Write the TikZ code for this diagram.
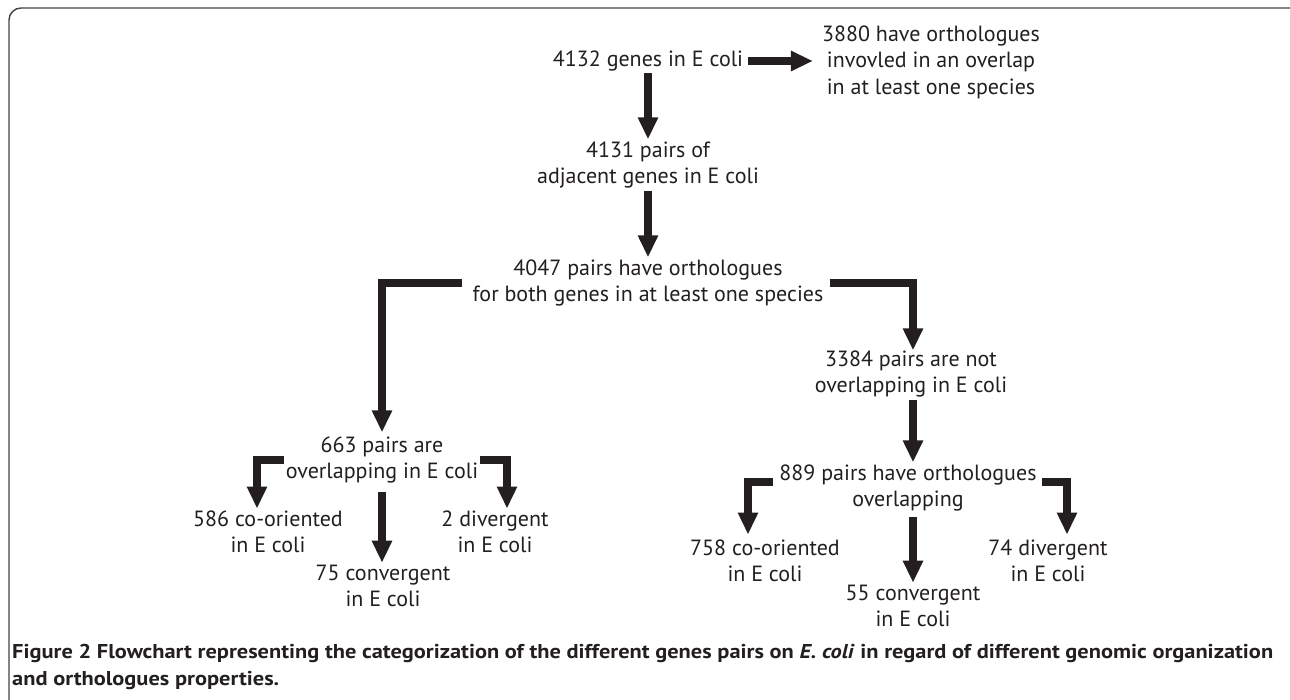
\documentclass[tikz,border=0pt]{standalone}
\usepackage{fontspec}
\setmainfont{PT Sans}
\newfontfamily\capfont[FakeStretch=1.12]{PT Sans}
\usetikzlibrary{arrows.meta}
\definecolor{ink}{HTML}{231F20}
\begin{document}
\begin{tikzpicture}[x=1pt,y=-1pt,
  lbl/.style={align=center, font=\fontsize{22}{26.5}\selectfont, text=ink, inner sep=0pt},
  arr/.style={draw=ink, line width=8pt, -{Triangle[width=19pt,length=22pt]}, line join=miter},
]
\useasboundingbox (0,0) rectangle (1290,700);
\clip (0,0) rectangle (1290,700);
\draw[line width=1.4pt, draw=ink!85, rounded corners=12pt] (9,8) rectangle (1302,712);

\node[lbl] (genes) at (648,61) {4132 genes in E coli};
\node[lbl] (orth) at (931,62) {3880 have orthologues\\invovled in an overlap\\in at least one species};
\node[lbl] (pairs) at (648,165) {4131 pairs of\\adjacent genes in E coli};
\node[lbl] (both) at (648,283) {4047 pairs have orthologues\\for both genes in at least one species};
\node[lbl] (notov) at (911,374) {3384 pairs are not\\overlapping in E coli};
\node[lbl] (ov) at (382,460) {663 pairs are\\overlapping in E coli};
\node[lbl] (hov) at (908,488) {889 pairs have orthologues\\overlapping};
\node[lbl] (co1) at (268,532) {586 co-oriented\\in E coli};
\node[lbl] (cv1) at (383,586) {75 convergent\\in E coli};
\node[lbl] (dv1) at (495,532) {2 divergent\\in E coli};
\node[lbl] (co2) at (765,561) {758 co-oriented\\in E coli};
\node[lbl] (cv2) at (913,606) {55 convergent\\in E coli};
\node[lbl] (dv2) at (1048,561) {74 divergent\\in E coli};

\draw[arr, shorten <=5pt, shorten >=9pt] (genes.east) -- (genes.east -| orth.west);
\draw[arr, shorten <=2pt, shorten >=2pt] (genes.south) -- (genes.south |- pairs.north);
\draw[arr, shorten <=2pt, shorten >=2pt] (pairs.south) -- (pairs.south |- both.north);
\draw[arr, shorten <=10pt, shorten >=4pt] (both.west) -| (ov.north);
\draw[arr, shorten <=6pt, shorten >=0pt] (both.east) -| ([xshift=2pt]notov.north);
\draw[arr, shorten <=2pt, shorten >=2pt] ([xshift=2pt]notov.south) -- ([xshift=2pt]notov.south |- hov.north);
\draw[arr, shorten <=2pt, shorten >=2pt] (ov.west) -| ([xshift=-11pt]co1.north);
\draw[arr, shorten <=2pt, shorten >=2pt] (ov.east) -| ([xshift=12pt]dv1.north);
\draw[arr, shorten <=8pt, shorten >=2pt] (ov.south) -- (ov.south |- cv1.north);
\draw[arr, shorten <=6pt, shorten >=5pt] ([yshift=6pt]hov.west) -| ([xshift=-17pt]co2.north);
\draw[arr, shorten <=5pt, shorten >=5pt] ([yshift=6pt]hov.east) -| ([xshift=19pt]dv2.north);
\draw[arr, shorten <=5pt, shorten >=2pt] (cv2.north |- hov.south) -- (cv2.north);

\node[anchor=north west, align=left, font=\capfont\bfseries\fontsize{20}{27}\selectfont, text=ink, inner sep=0pt] (cap) at (12,644)
  {Figure 2 Flowchart representing the categorization of the different genes pairs on \textit{E. coli} in regard of different genomic organization\\and orthologues properties.};
\end{tikzpicture}
\end{document}
